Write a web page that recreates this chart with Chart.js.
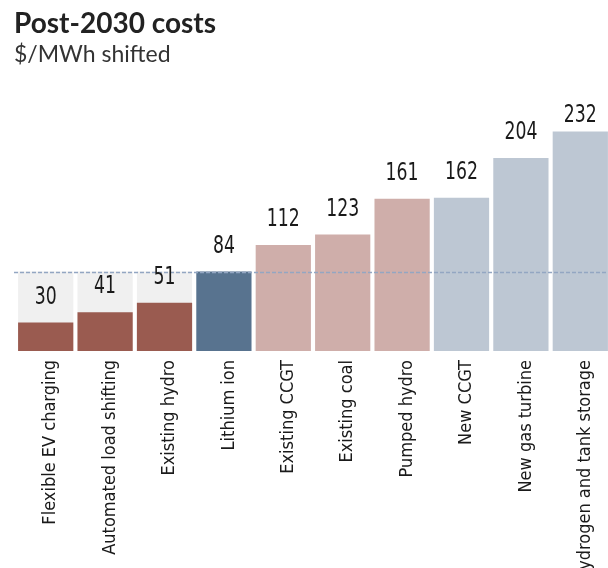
<!DOCTYPE html>
<html>
<head>
<meta charset="utf-8">
<script src="https://cdn.jsdelivr.net/npm/chart.js@4/dist/chart.umd.min.js"></script>
<style>
  html, body { margin: 0; padding: 0; background: #fff; width: 608px; height: 568px; overflow: hidden; position: relative; }
  #title { position: absolute; left: 14px; top: 5px; font-family: Lato, sans-serif; font-weight: 700; font-size: 28px; color: #222; white-space: nowrap; }
  #subtitle { position: absolute; left: 14px; top: 39px; font-family: Lato, sans-serif; font-weight: 400; font-size: 23px; color: #333; white-space: nowrap; }
  #wrap { position: absolute; left: 0; top: 0; width: 612px; height: 568px; }
</style>
</head>
<body>
<div id="wrap"><canvas id="c" width="612" height="568"></canvas></div>
<div id="title">Post-2030 costs</div>
<div id="subtitle">$/MWh shifted</div>
<script>
const categories = ["Flexible EV charging", "Automated load shifting", "Existing hydro", "Lithium ion", "Existing CCGT", "Existing coal", "Pumped hydro", "New CCGT", "New gas turbine", "Hydrogen and tank storage"];
const costs = [30, 41, 51, 84, 112, 123, 161, 162, 204, 232];
const benchmark = 84; // lithium ion reference level
const shadeValues = [84, 84, 84, null, null, null, null, null, null, null];
const barColors = ["#9a5b50", "#9a5b50", "#9a5b50", "#58738f", "#cfaeaa", "#cfaeaa", "#cfaeaa", "#bdc7d3", "#bdc7d3", "#bdc7d3"];

const narrow = '"DejaVu Sans Condensed", "Liberation Sans", sans-serif';

const extras = {
  id: 'extras',
  afterDatasetsDraw(chart) {
    const ctx = chart.ctx, y = chart.scales.y, area = chart.chartArea;
    const py = Math.round(y.getPixelForValue(benchmark)) + 0.5;
    ctx.save();
    ctx.strokeStyle = '#93a6c2';
    ctx.lineWidth = 1.5;
    ctx.setLineDash([4, 2]);
    ctx.beginPath();
    ctx.moveTo(14, py);
    ctx.lineTo(area.right, py);
    ctx.stroke();
    ctx.restore();

    const meta = chart.getDatasetMeta(0);
    ctx.save();
    ctx.font = '24px ' + narrow;
    ctx.fillStyle = '#1a1a1a';
    ctx.textAlign = 'center';
    ctx.textBaseline = 'alphabetic';
    meta.data.forEach((bar, i) => {
      let yb = bar.y - 19;
      if (yb < 122) yb = 122;
      ctx.save();
      ctx.translate(bar.x, yb);
      ctx.scale(0.8, 1);
      ctx.fillText(String(costs[i]), 0, 0);
      ctx.restore();
    });
    ctx.restore();
  }
};

new Chart(document.getElementById('c'), {
  type: 'bar',
  data: {
    labels: categories,
    datasets: [
      { data: costs, backgroundColor: barColors, order: 1, grouped: false, barPercentage: 0.93, categoryPercentage: 1.0 },
      { data: shadeValues, backgroundColor: '#f0f0f0', order: 2, grouped: false, barPercentage: 0.93, categoryPercentage: 1.0 }
    ]
  },
  options: {
    responsive: false,
    animation: false,
    layout: { padding: { left: 16, right: 2, top: 105, bottom: 0 } },
    plugins: { legend: { display: false }, tooltip: { enabled: false } },
    scales: {
      y: { display: false, min: 0, max: 260 },
      x: {
        grid: { display: false, drawTicks: false },
        border: { display: false },
        ticks: {
          autoSkip: false, minRotation: 90, maxRotation: 90, padding: 9, labelOffset: 5,
          color: '#1a1a1a', font: { family: narrow, size: 18 }
        },
        afterFit(scale) { scale.height = 217; }
      }
    }
  },
  plugins: [extras]
});
</script>
</body>
</html>
